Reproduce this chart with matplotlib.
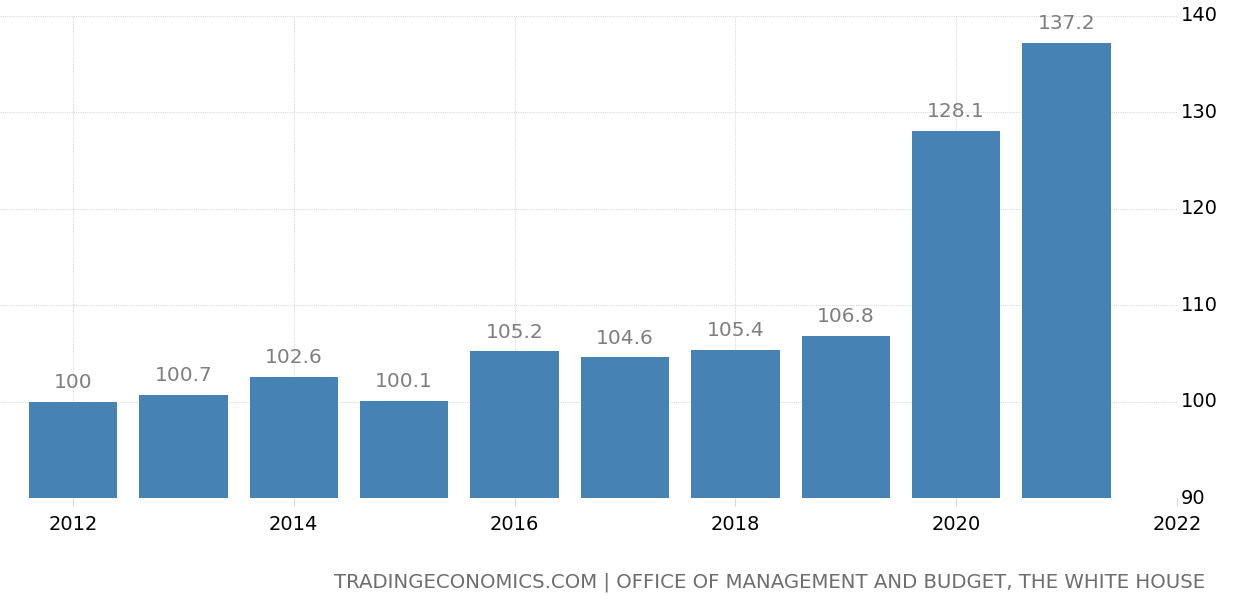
import matplotlib
matplotlib.use("Agg")
import matplotlib.pyplot as plt

years = [2012, 2013, 2014, 2015, 2016, 2017, 2018, 2019, 2020, 2021]
values = [100, 100.7, 102.6, 100.1, 105.2, 104.6, 105.4, 106.8, 128.1, 137.2]
labels = ["100", "100.7", "102.6", "100.1", "105.2", "104.6", "105.4", "106.8", "128.1", "137.2"]
xticks = [2012, 2014, 2016, 2018, 2020, 2022]
yticks = [90, 100, 110, 120, 130, 140]
footer = "TRADINGECONOMICS.COM | OFFICE OF MANAGEMENT AND BUDGET, THE WHITE HOUSE"

plt.rcParams['font.family'] = ['DejaVu Sans']
fig = plt.figure(figsize=(12.34, 6.03), dpi=100)
ax = fig.add_axes([0.0, 1 - 498 / 603, 1177 / 1234, (498 - 16) / 603])

bars = ax.bar(years, [v - 90 for v in values], bottom=90, width=0.8, color="#4682b4", zorder=2)
for x, v, l in zip(years, values, labels):
    ax.annotate(l, (x, v), xytext=(0, 7), textcoords="offset points",
                ha="center", va="bottom", fontsize=14.5, color="#7f7f7f")

ax.set_xlim(2012 - 73 / 110.4, 2022)
ax.set_ylim(90, 140)
ax.set_xticks(xticks)
ax.set_yticks(yticks)
ax.yaxis.tick_right()
ax.grid(True, color="#d9d9d9", linestyle=(0, (1, 1)), linewidth=0.8, zorder=0)
for s in ax.spines.values():
    s.set_visible(False)
ax.tick_params(axis="x", length=6, color="#d9d9d9", labelsize=14, pad=6, labelcolor="black")
ax.tick_params(axis="y", length=0, labelsize=14, pad=3, labelcolor="black")
for lab in ax.get_yticklabels():
    lab.set_va("center")

fig.text(1205 / 1234, 1 - 582 / 603, footer, ha="right", va="center", fontsize=14.2, color="#6e6e6e")
fig.savefig("out.png", dpi=100)
